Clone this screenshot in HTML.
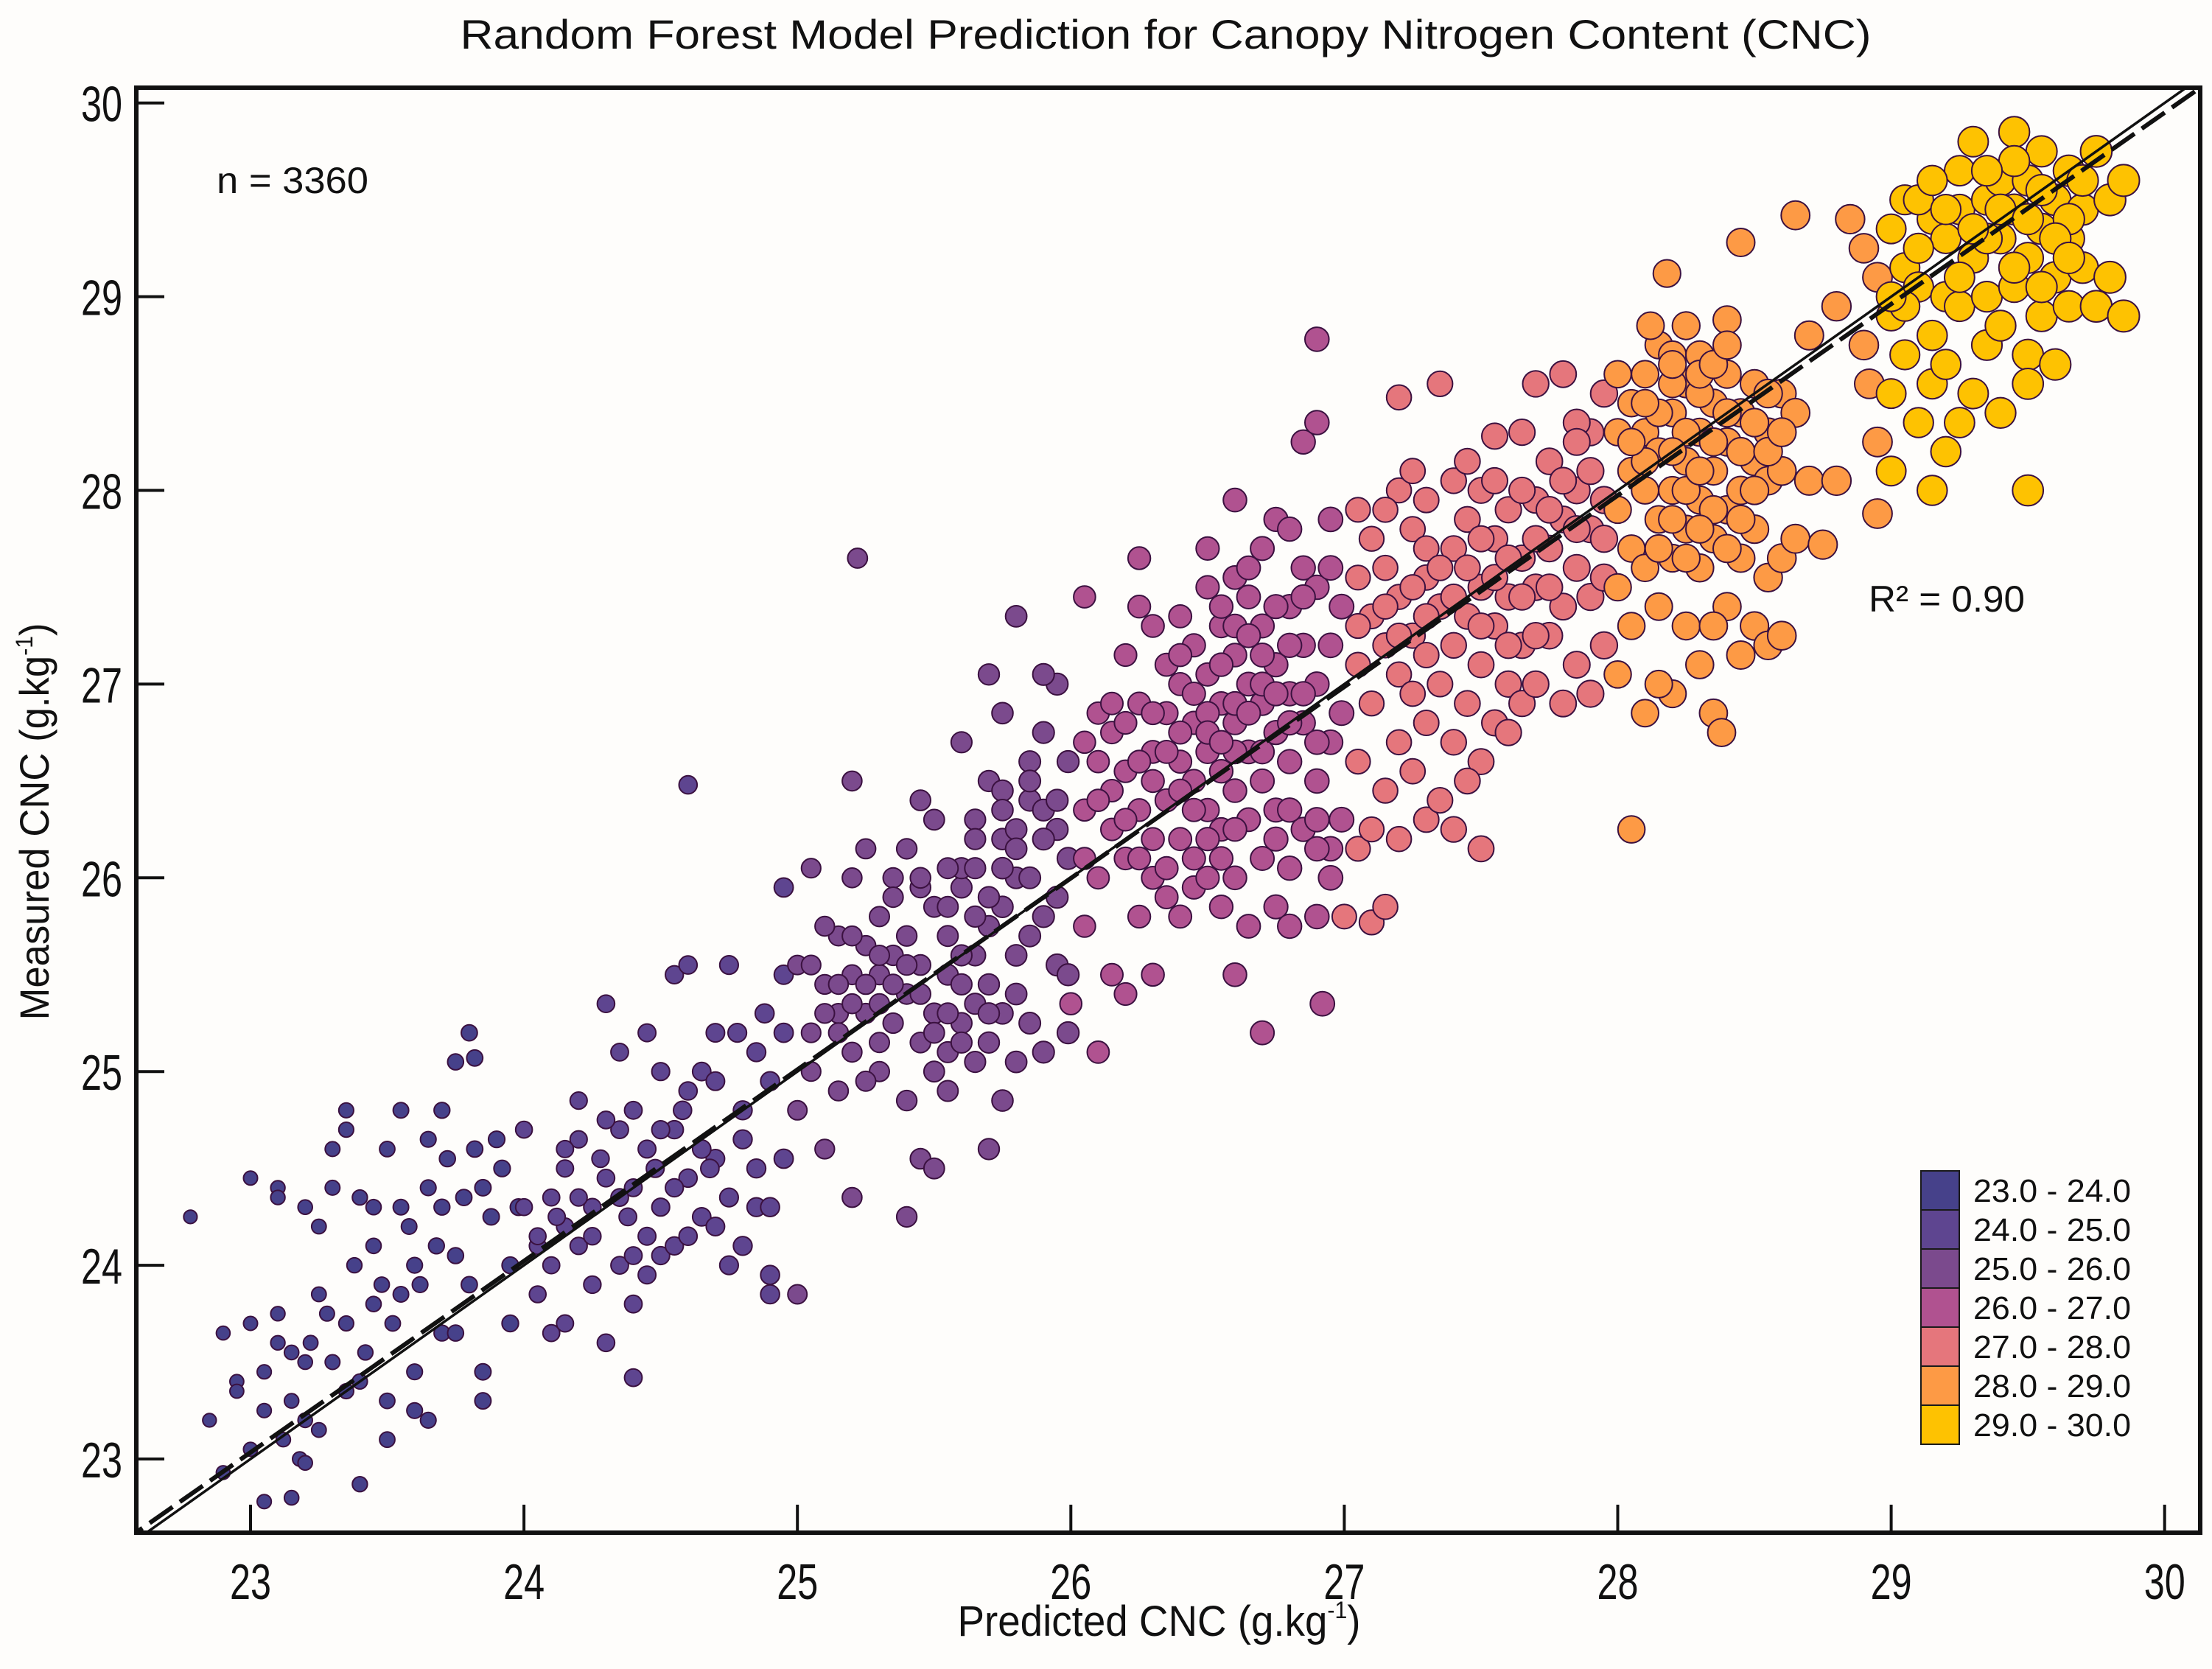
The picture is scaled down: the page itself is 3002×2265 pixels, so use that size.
<!DOCTYPE html>
<html><head><meta charset="utf-8"><style>
html,body{margin:0;padding:0;background:#fefdfb;}
svg{display:block;font-family:"Liberation Sans",sans-serif;}
</style></head><body>
<svg id="chart" width="3002" height="2265" viewBox="0 0 3002 2265" xmlns="http://www.w3.org/2000/svg">
<rect x="0" y="0" width="3002" height="2265" fill="#fefdfb"/>
<text x="1582" y="66" font-size="56" text-anchor="middle" textLength="1915" lengthAdjust="spacingAndGlyphs" fill="#111">Random Forest Model Prediction for Canopy Nitrogen Content (CNC)</text>
<defs><clipPath id="plotclip"><rect x="185" y="119" width="2801" height="1961"/></clipPath></defs>
<g id="points" clip-path="url(#plotclip)"></g>
<g id="lines" clip-path="url(#plotclip)"></g>
<g id="axes"></g>
<text x="294" y="262" font-size="50" textLength="206" lengthAdjust="spacingAndGlyphs" fill="#111">n = 3360</text>
<text x="2536" y="830" font-size="50" textLength="212" lengthAdjust="spacingAndGlyphs" fill="#111">R² = 0.90</text>
<text x="1573" y="2220" font-size="58" text-anchor="middle" textLength="547" lengthAdjust="spacingAndGlyphs" fill="#111">Predicted CNC (g.kg<tspan font-size="32" dy="-24">-1</tspan><tspan dy="24">)</tspan></text>
<text transform="translate(66,1115) rotate(-90)" font-size="56" text-anchor="middle" textLength="539" lengthAdjust="spacingAndGlyphs" fill="#111">Measured CNC (g.kg<tspan font-size="32" dy="-22">-1</tspan><tspan dy="22">)</tspan></text>
<g id="legend"></g>
</svg>
<script>
const binLabels=["23.0 - 24.0","24.0 - 25.0","25.0 - 26.0","26.0 - 27.0","27.0 - 28.0","28.0 - 29.0","29.0 - 30.0"];
const binColors=["#46418a","#5e4590","#7b4a8d","#b05290","#e5767c","#fd9a45","#fec201"];
const xTicks=[23,24,25,26,27,28,29,30];
const yTicks=[23,24,25,26,27,28,29,30];
const fitSlope=0.988;
const fitIntercept=0.31;
const predicted=[22.78,22.85,22.9,22.95,22.9,23.0,23.0,23.05,23.1,23.1,23.15,23.15,23.05,23.2,23.2,23.25,23.25,23.3,23.3,23.35,23.35,23.35,23.4,23.4,23.45,23.45,23.5,23.5,23.55,23.55,23.6,23.6,23.65,23.7,23.7,23.7,23.75,23.75,23.8,23.82,23.85,23.85,23.85,23.9,23.95,23.95,23.0,23.1,23.1,23.2,22.95,23.05,23.12,23.18,23.22,23.28,23.3,23.38,23.42,23.48,23.52,23.58,23.62,23.65,23.68,23.72,23.78,23.8,23.82,23.88,23.92,23.98,23.5,23.6,23.25,23.15,23.35,23.45,23.55,23.75,23.2,23.65,23.4,
24.0,24.05,24.05,24.1,24.1,24.1,24.15,24.15,24.15,24.2,24.2,24.2,24.25,24.25,24.3,24.3,24.3,24.35,24.35,24.35,24.4,24.4,24.4,24.4,24.45,24.45,24.45,24.5,24.5,24.5,24.55,24.55,24.55,24.6,24.6,24.6,24.6,24.65,24.65,24.7,24.7,24.7,24.75,24.75,24.8,24.8,24.85,24.85,24.9,24.9,24.9,24.95,24.95,24.95,24.0,24.05,24.15,24.25,24.3,24.35,24.45,24.5,24.55,24.65,24.7,24.75,24.8,24.85,24.9,24.6,24.4,24.2,24.12,24.28,24.38,24.48,24.58,24.68,24.78,24.88,24.95,
25.0,25.0,25.0,25.05,25.05,25.05,25.1,25.1,25.15,25.15,25.15,25.2,25.2,25.2,25.2,25.2,25.22,25.25,25.25,25.25,25.3,25.3,25.3,25.35,25.35,25.35,25.4,25.4,25.4,25.4,25.45,25.45,25.45,25.45,25.5,25.5,25.5,25.5,25.55,25.55,25.55,25.6,25.6,25.6,25.65,25.65,25.65,25.7,25.7,25.7,25.7,25.7,25.75,25.75,25.75,25.75,25.75,25.8,25.8,25.8,25.8,25.85,25.85,25.85,25.9,25.9,25.9,25.95,25.95,25.95,25.99,25.99,25.99,25.99,25.1,25.25,25.4,25.55,25.65,25.85,25.6,25.75,25.3,25.5,25.15,25.45,25.6,25.8,25.9,25.95,25.65,25.55,25.7,25.35,25.05,25.9,
26.0,26.05,26.05,26.05,26.1,26.1,26.1,26.1,26.15,26.15,26.15,26.2,26.2,26.2,26.2,26.25,26.25,26.25,26.25,26.3,26.3,26.3,26.3,26.35,26.35,26.35,26.4,26.4,26.4,26.4,26.4,26.45,26.45,26.45,26.45,26.5,26.5,26.5,26.5,26.5,26.55,26.55,26.55,26.55,26.55,26.6,26.6,26.6,26.6,26.6,26.6,26.6,26.65,26.65,26.65,26.65,26.65,26.7,26.7,26.7,26.7,26.7,26.7,26.75,26.75,26.75,26.75,26.75,26.8,26.8,26.8,26.8,26.8,26.85,26.85,26.85,26.85,26.9,26.9,26.9,26.9,26.9,26.9,26.92,26.95,26.95,26.95,26.95,26.99,26.99,26.99,26.3,26.5,26.7,26.2,26.4,26.6,26.85,26.55,26.35,26.15,26.05,26.45,26.75,26.9,26.65,26.25,26.5,26.95,26.8,
27.0,27.05,27.05,27.05,27.05,27.05,27.1,27.1,27.1,27.1,27.1,27.15,27.15,27.15,27.15,27.2,27.2,27.2,27.2,27.2,27.2,27.25,27.25,27.25,27.25,27.3,27.3,27.3,27.3,27.3,27.35,27.35,27.35,27.35,27.4,27.4,27.4,27.4,27.45,27.45,27.45,27.5,27.5,27.5,27.5,27.5,27.55,27.55,27.55,27.55,27.6,27.6,27.6,27.65,27.65,27.65,27.65,27.7,27.7,27.7,27.7,27.75,27.75,27.75,27.8,27.8,27.8,27.8,27.85,27.85,27.85,27.9,27.9,27.9,27.9,27.95,27.95,27.95,27.95,27.4,27.6,27.25,27.45,27.3,27.5,27.7,27.15,27.85,
28.0,28.0,28.0,28.0,28.0,28.05,28.05,28.05,28.05,28.05,28.1,28.1,28.1,28.1,28.1,28.15,28.15,28.15,28.15,28.18,28.2,28.2,28.2,28.2,28.2,28.25,28.25,28.25,28.25,28.3,28.3,28.3,28.3,28.3,28.35,28.35,28.35,28.35,28.38,28.4,28.4,28.4,28.4,28.4,28.45,28.45,28.45,28.45,28.5,28.5,28.5,28.5,28.55,28.55,28.55,28.55,28.6,28.6,28.6,28.65,28.65,28.75,28.6,28.45,28.25,28.35,28.15,28.7,28.65,28.7,28.8,28.8,28.85,28.9,28.9,28.92,28.95,28.95,28.95,
29.0,29.0,29.0,29.0,29.05,29.05,29.05,29.1,29.1,29.15,29.15,29.15,29.15,29.2,29.2,29.2,29.2,29.25,29.25,29.25,29.3,29.3,29.3,29.35,29.35,29.35,29.4,29.4,29.4,29.4,29.45,29.45,29.45,29.5,29.5,29.5,29.5,29.5,29.55,29.55,29.55,29.6,29.6,29.6,29.65,29.65,29.65,29.7,29.7,29.75,29.75,29.8,29.8,29.85,29.85,29.1,29.25,29.45,29.35,29.55,29.65];
const measured=[24.25,23.2,23.65,23.4,22.93,23.05,23.7,23.25,23.6,23.75,23.3,22.8,22.78,23.5,23.2,23.85,24.2,24.4,24.6,24.7,24.8,23.7,23.4,22.87,24.1,23.8,23.3,24.6,24.8,24.3,24.0,23.45,23.2,24.3,23.65,24.8,24.05,25.05,25.2,25.07,24.4,23.3,23.45,24.65,24.0,23.7,24.45,24.4,24.35,24.3,23.35,23.45,23.1,23.0,23.6,23.75,23.5,24.0,23.55,23.9,23.7,24.2,23.9,24.4,24.1,24.55,24.35,23.9,24.6,24.25,24.5,24.3,23.1,23.25,23.15,23.55,23.35,24.3,23.85,23.65,22.98,24.65,24.35,
24.3,24.1,23.85,24.35,24.0,23.65,24.2,24.5,23.7,24.1,24.65,24.85,24.3,23.9,24.45,25.35,23.6,24.0,24.7,25.1,24.4,24.8,23.8,23.42,25.2,24.15,24.6,24.05,25.0,24.3,25.5,24.1,24.7,24.9,25.55,26.48,24.45,24.25,25.0,24.55,25.2,24.2,24.35,25.55,24.8,24.1,25.1,24.5,24.95,23.85,23.95,25.5,24.55,25.95,24.7,24.15,24.6,24.15,24.75,24.35,23.95,24.7,24.4,24.6,24.95,24.0,24.65,24.3,24.3,24.15,24.05,24.35,24.25,24.55,24.25,24.5,24.8,24.5,25.2,25.3,25.2,
25.55,24.8,23.85,25.2,25.0,26.05,25.45,24.6,25.3,25.7,24.9,25.5,25.1,26.5,26.0,24.35,27.65,25.3,25.65,26.15,25.0,25.5,25.8,25.25,25.6,26.0,25.4,25.7,24.85,24.25,25.15,25.55,26.4,24.55,25.3,25.85,26.3,24.5,25.5,25.1,25.7,25.25,25.95,26.05,25.35,25.6,26.3,25.15,25.45,26.5,27.05,24.6,25.3,25.85,26.2,26.85,24.85,25.6,26.0,27.35,25.05,25.25,26.4,26.6,25.8,26.75,25.1,25.55,26.25,27.0,25.2,25.5,26.1,26.6,25.75,24.95,26.15,24.9,25.05,25.7,26.7,26.45,25.15,25.0,25.45,25.95,25.6,26.25,26.35,25.9,26.05,26.05,25.75,25.9,25.55,27.05,
25.35,27.45,26.35,25.75,25.1,26.0,26.6,26.85,25.5,26.25,26.75,25.4,26.1,26.55,27.15,25.8,26.35,26.9,27.4,25.5,26.0,26.65,27.3,25.9,26.4,26.85,25.8,26.2,26.6,27.0,27.35,25.95,26.5,26.8,27.2,26.0,26.35,26.65,27.05,27.5,25.85,26.25,26.55,26.9,27.3,26.0,26.45,26.8,27.15,27.55,27.95,25.5,25.75,26.3,26.65,27.0,27.6,26.1,26.5,26.9,27.3,27.7,25.2,25.85,26.35,26.75,27.1,27.85,25.75,26.05,26.6,26.95,27.4,26.25,26.8,27.6,28.25,25.8,26.5,27.0,27.5,28.35,28.78,25.35,26.15,26.7,27.2,27.85,26.3,26.85,27.4,26.2,26.85,26.65,26.8,26.45,26.65,27.2,27.1,27.1,26.45,26.7,26.1,26.2,26.3,27.45,27.65,27.7,26.0,27.8,
25.8,26.15,26.6,27.1,27.55,27.9,26.25,26.9,27.35,27.75,25.77,25.85,26.45,27.2,27.6,26.2,26.7,27.05,27.45,28.0,28.48,26.55,27.25,27.8,28.1,26.3,26.8,27.15,27.55,27.95,26.4,27.0,27.4,28.55,26.7,27.2,27.7,28.05,26.9,27.35,27.85,26.15,26.6,27.1,27.5,28.0,26.8,27.3,27.75,28.28,27.0,27.45,27.9,26.9,27.2,27.65,28.3,27.0,27.5,27.95,28.55,27.25,27.7,28.15,26.9,27.4,27.85,28.6,27.1,27.6,28.0,26.95,27.45,27.8,28.3,27.2,27.55,27.95,28.5,26.25,26.75,26.95,26.5,27.7,27.75,27.25,27.9,28.35,
27.05,27.5,27.9,28.3,28.6,26.25,27.3,27.7,28.1,28.45,26.85,27.6,28.0,28.3,28.6,27.4,27.85,28.2,28.75,29.12,26.95,27.65,28.0,28.4,28.7,27.3,27.8,28.15,28.55,27.1,27.6,27.95,28.3,28.7,27.75,28.1,28.45,26.85,26.75,27.4,27.9,28.25,28.6,28.88,27.65,28.0,28.4,29.28,27.3,27.8,28.15,28.55,27.2,28.3,28.05,27.55,27.65,28.5,28.1,27.75,28.4,27.72,27.25,27.15,28.85,27.3,27.0,28.05,29.42,28.8,28.95,28.05,29.4,29.25,28.75,28.55,28.25,27.88,29.1,
29.35,28.9,28.5,28.1,29.5,29.15,28.7,29.05,28.35,29.4,28.8,28.55,28.0,29.3,29.0,28.65,28.2,29.65,29.45,28.95,29.2,28.5,29.8,29.5,29.0,28.75,29.6,29.3,28.85,28.4,29.85,29.45,29.05,29.6,29.2,28.7,28.0,28.55,29.75,29.35,28.9,29.5,29.1,28.65,29.65,29.3,28.95,29.45,29.15,29.75,28.95,29.5,29.1,29.6,28.9,29.5,28.35,29.7,29.3,29.55,29.4];
const predictedExtra=[25.1,25.2,25.25,25.3,25.35,25.15,25.45,25.55,25.6,25.65,25.7,25.75,25.8,25.85,25.9,25.95,25.5,25.4,25.6,25.7,25.8,25.65,25.75,25.85,25.2,25.3,25.45,25.55,
26.3,26.35,26.4,26.45,26.5,26.55,26.6,26.65,26.7,26.75,26.8,26.85,26.9,26.5,26.4,26.6,26.7,26.8,26.3,26.2,26.25,26.55,26.65,26.75,26.85,26.95,26.45,26.55,26.35,26.25,26.15,26.05,26.1,26.6,26.9,26.8,
27.15,27.25,27.35,27.45,27.55,27.65,27.75,27.85,27.95,27.3,27.4,27.6,27.7,27.8,27.9,27.05,27.2,27.5,27.6,27.75,27.65,27.55,27.45,27.85,
28.1,28.15,28.2,28.25,28.3,28.35,28.4,28.45,28.5,28.2,28.25,28.3,28.35,28.15,28.2,28.25,28.3,28.4,28.45,28.5,28.55,28.3,28.35,28.4,28.2,28.1,28.05,28.55,28.6,28.12,
29.05,29.1,29.2,29.3,29.4,29.5,29.6,29.7,29.25,29.45,29.55,29.65,29.35,29.15,29.0];
const measuredExtra=[25.3,25.35,25.45,25.35,25.45,25.2,25.4,25.3,25.45,25.8,25.9,26.05,26.15,26.0,26.2,26.4,25.2,25.55,25.15,25.3,25.4,26.2,26.35,26.5,25.7,25.6,26.0,25.85,
26.5,26.65,26.75,26.95,26.75,26.7,26.9,26.85,27.0,26.95,26.8,26.95,26.7,26.2,27.15,27.3,27.15,27.2,26.85,26.3,26.6,27.4,27.25,27.4,27.45,27.6,26.35,26.1,26.05,26.1,26.9,26.1,26.4,26.25,26.15,26.35,
27.4,27.5,27.6,27.6,27.55,27.45,27.5,27.8,27.75,27.35,27.45,27.65,27.75,28.05,28.1,27.3,27.25,27.3,27.2,27.9,28.0,28.05,28.15,28.25,
28.15,28.4,28.55,28.3,28.5,28.25,28.4,28.2,28.35,28.2,28.0,28.1,27.9,27.7,27.85,27.65,27.8,27.7,27.85,28.0,28.5,28.6,28.65,28.75,28.65,28.45,28.25,28.2,28.3,28.85,
28.95,29.25,29.45,29.35,29.45,29.4,29.3,29.6,29.1,29.15,29.05,29.2,29.65,29.6,29.0];

const NS="http://www.w3.org/2000/svg";
const X0=185,X1=2986,Y0=119,Y1=2080;
function xs(v){return 340+(v-23)*371.1;}
function ys(v){return 1980-(v-23)*262.9;}
function binOf(v){return Math.max(0,Math.min(6,Math.floor(v-23)));}
function rad(v){return 9.5+(v-23)*1.75;}

const allP=predicted.concat(predictedExtra);
const allM=measured.concat(measuredExtra);
const order=[];
for(let i=0;i<allP.length&&i<allM.length;i++)order.push(i);
order.sort((a,b)=>binOf(allP[a])-binOf(allP[b]));
const pg=document.getElementById('points');
order.forEach(i=>{
  const c=document.createElementNS(NS,'circle');
  c.setAttribute('cx',xs(allP[i]).toFixed(1));
  c.setAttribute('cy',ys(allM[i]).toFixed(1));
  c.setAttribute('r',rad(allP[i]).toFixed(1));
  c.setAttribute('fill',binColors[binOf(allP[i])]);
  c.setAttribute('stroke','#3b1140');
  c.setAttribute('stroke-width','2');
  
  
  pg.appendChild(c);
});

const lg=document.getElementById('lines');
const lo=22.3,hi=30.4;
const l1=document.createElementNS(NS,'line');
l1.setAttribute('x1',xs(lo));l1.setAttribute('y1',ys(lo));
l1.setAttribute('x2',xs(hi));l1.setAttribute('y2',ys(hi));
l1.setAttribute('stroke','#111');l1.setAttribute('stroke-width','3.5');


lg.appendChild(l1);
const l2=document.createElementNS(NS,'line');
l2.setAttribute('x1',xs(lo));l2.setAttribute('y1',ys(fitSlope*lo+fitIntercept));
l2.setAttribute('x2',xs(hi));l2.setAttribute('y2',ys(fitSlope*hi+fitIntercept));
l2.setAttribute('stroke','#111');l2.setAttribute('stroke-width','6');
l2.setAttribute('stroke-dasharray','38 12');


lg.appendChild(l2);

const ag=document.getElementById('axes');
const frame=document.createElementNS(NS,'rect');
frame.setAttribute('x',X0);frame.setAttribute('y',Y0);
frame.setAttribute('width',X1-X0);frame.setAttribute('height',Y1-Y0);
frame.setAttribute('fill','none');frame.setAttribute('stroke','#111');frame.setAttribute('stroke-width','6');


ag.appendChild(frame);
xTicks.forEach(t=>{
  const x=xs(t);
  const tk=document.createElementNS(NS,'line');
  tk.setAttribute('x1',x);tk.setAttribute('x2',x);tk.setAttribute('y1',Y1);tk.setAttribute('y2',Y1-38);
  tk.setAttribute('stroke','#111');tk.setAttribute('stroke-width','4');
  
  
  ag.appendChild(tk);
  const tx=document.createElementNS(NS,'text');
  tx.setAttribute('x',x);tx.setAttribute('y',2170);
  tx.setAttribute('font-size','68');tx.setAttribute('text-anchor','middle');tx.setAttribute('fill','#111');
  tx.setAttribute('textLength','56');tx.setAttribute('lengthAdjust','spacingAndGlyphs');
  tx.textContent=String(t);
  
  
  ag.appendChild(tx);
});
yTicks.forEach(t=>{
  const y=ys(t);
  const tk=document.createElementNS(NS,'line');
  tk.setAttribute('x1',X0);tk.setAttribute('x2',X0+38);tk.setAttribute('y1',y);tk.setAttribute('y2',y);
  tk.setAttribute('stroke','#111');tk.setAttribute('stroke-width','4');
  
  
  ag.appendChild(tk);
  const tx=document.createElementNS(NS,'text');
  tx.setAttribute('x',166);tx.setAttribute('y',y+25);
  tx.setAttribute('font-size','68');tx.setAttribute('text-anchor','end');tx.setAttribute('fill','#111');
  tx.setAttribute('textLength','56');tx.setAttribute('lengthAdjust','spacingAndGlyphs');
  tx.textContent=String(t);
  
  
  ag.appendChild(tx);
});

const leg=document.getElementById('legend');
binLabels.forEach((lab,i)=>{
  const y=1589+i*53;
  const r=document.createElementNS(NS,'rect');
  r.setAttribute('x',2607);r.setAttribute('y',y);r.setAttribute('width',52);r.setAttribute('height',53);
  r.setAttribute('fill',binColors[i]);r.setAttribute('stroke','#1a1a1a');r.setAttribute('stroke-width','2');
  
  
  leg.appendChild(r);
  const t=document.createElementNS(NS,'text');
  t.setAttribute('x',2678);t.setAttribute('y',y+42);
  t.setAttribute('font-size','44');t.setAttribute('fill','#111');
  t.setAttribute('textLength','214');t.setAttribute('lengthAdjust','spacingAndGlyphs');
  t.textContent=lab;
  
  
  leg.appendChild(t);
});
</script>
</body></html>
